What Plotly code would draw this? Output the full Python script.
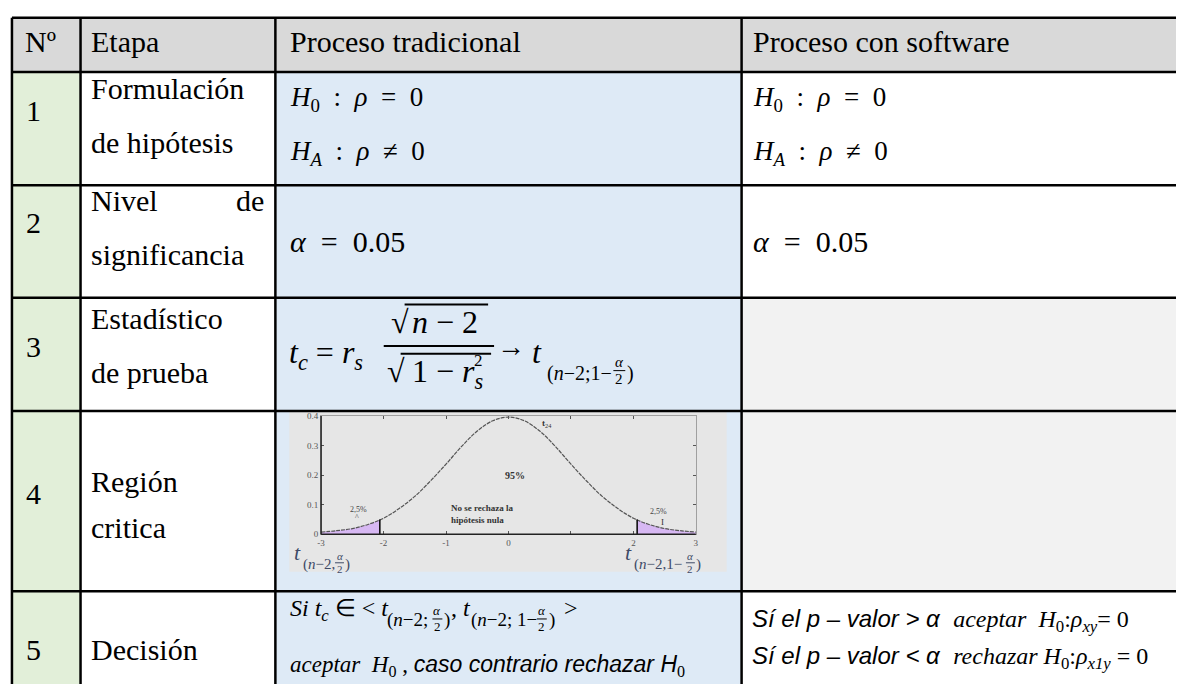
import plotly.graph_objects as go

# ---------------- data ----------------
header_labels = ["Nº", "Etapa", "Proceso tradicional", "Proceso con software"]
step_numbers = ["1", "2", "3", "4", "5"]
step_names = [["Formulación", "de hipótesis"], ["Nivel", "significancia"],
              ["Estadístico", "de prueba"], ["Región", "critica"], ["Decisión"]]
hyp_null = "<i>H</i><sub>0</sub>\u2002:\u2002<i>ρ</i>\u2002=\u20020"
hyp_alt = "<i>H</i><sub><i>A</i></sub>\u2002:\u2002<i>ρ</i>\u2002≠\u20020"
alpha_text = "<i>α</i>\u2002=\u20020.05"

# t distribution (24 df)
t_x = [-3.0, -2.75, -2.5, -2.25, -2.0, -1.75, -1.5, -1.25, -1.0, -0.75, -0.5, -0.25, 0.0,
       0.25, 0.5, 0.75, 1.0, 1.25, 1.5, 1.75, 2.0, 2.25, 2.5, 2.75, 3.0]
t_y = [0.007, 0.012, 0.019, 0.033, 0.054, 0.087, 0.128, 0.180, 0.237, 0.297, 0.349, 0.384, 0.396,
       0.384, 0.349, 0.297, 0.237, 0.180, 0.128, 0.087, 0.054, 0.033, 0.019, 0.012, 0.007]
left_tail_x = [-3.0, -2.75, -2.5, -2.25, -2.06]
left_tail_y = [0.007, 0.012, 0.019, 0.033, 0.050]
right_tail_x = [2.06, 2.25, 2.5, 2.75, 3.0]
right_tail_y = [0.050, 0.033, 0.019, 0.012, 0.007]
x_tick_vals = [-3, -2, -1, 0, 1, 2, 3]
x_tick_text = ["-3", "-2", "-1", "0", "", "2", "3"]
y_tick_vals = [0, 0.1, 0.2, 0.3, 0.4]
y_tick_text = ["0", "0.1", "0.2", "0.3", "0.4"]

# ---------------- layout geometry ----------------
W, H = 1179, 689
col_edges = [8, 77, 273, 742, 1179]
row_edges = [13, 68, 183, 297, 412, 595, 689]
GREEN, BLUE, GRAY, HEAD, WHITE = "#E2EFD9", "#DEEAF6", "#F2F2F2", "#D9D9D9", "#FFFFFF"
cell_fill = [
    [HEAD, HEAD, HEAD, HEAD],
    [GREEN, WHITE, BLUE, WHITE],
    [GREEN, WHITE, BLUE, WHITE],
    [GREEN, WHITE, BLUE, GRAY],
    [GREEN, WHITE, BLUE, GRAY],
    [GREEN, WHITE, BLUE, WHITE],
]
SERIF = "Liberation Serif, Times New Roman, serif"
SANS = "Liberation Sans, Arial, sans-serif"

fig = go.Figure()
fig.add_trace(go.Scatter(x=[0], y=[0], mode="markers", marker=dict(opacity=0),
                         hoverinfo="skip", showlegend=False, xaxis="x", yaxis="y"))

shapes = []
for r in range(len(row_edges) - 1):
    for c in range(len(col_edges) - 1):
        shapes.append(dict(type="rect", xref="x", yref="y", layer="below",
                           x0=col_edges[c], x1=col_edges[c + 1], y0=row_edges[r], y1=row_edges[r + 1],
                           fillcolor=cell_fill[r][c], line=dict(width=0)))
shapes.append(dict(type="rect", xref="x", yref="y", layer="below", x0=287, x1=727, y0=411, y1=575,
                   fillcolor="#E6E6E6", line=dict(width=0)))
for y in row_edges[:-1]:
    shapes.append(dict(type="line", xref="x", yref="y", layer="above", x0=col_edges[0], x1=W, y0=y, y1=y,
                       line=dict(color="black", width=2.5)))
for x in col_edges[:-1]:
    shapes.append(dict(type="line", xref="x", yref="y", layer="above", x0=x, x1=x, y0=row_edges[0], y1=H,
                       line=dict(color="black", width=2.5)))

ann = []


def text(x, base, s, size, family=SERIF, color="black", xref="x", yref="y", asc=0.891, xanchor="left"):
    ann.append(dict(x=x, y=base - asc * size, text=s, xref=xref, yref=yref, xanchor=xanchor, yanchor="top",
                    showarrow=False, borderpad=0, borderwidth=0,
                    font=dict(family=family, size=size, color=color)))


def hline(x0, x1, y, w=2, color="black"):
    shapes.append(dict(type="line", xref="x", yref="y", x0=x0, x1=x1, y0=y, y1=y,
                       line=dict(color=color, width=w)))


def frac(x, ybar, num, den, size, width, color="black"):
    ann.append(dict(x=x + width / 2, y=ybar - 1, text=num, xref="x", yref="y", xanchor="center", yanchor="bottom",
                    showarrow=False, borderpad=0, borderwidth=0, font=dict(family=SERIF, size=size, color=color)))
    ann.append(dict(x=x + width / 2, y=ybar + 0.5, text=den, xref="x", yref="y", xanchor="center", yanchor="top",
                    showarrow=False, borderpad=0, borderwidth=0, font=dict(family=SERIF, size=size, color=color)))
    hline(x, x + width, ybar, w=1, color=color)


FS = 30
head_x = [21, 88, 288, 753]
for hx, lab in zip(head_x, header_labels):
    text(hx, 47, lab, FS)
num_base = [117, 231, 357, 506, 664]
for b, n in zip(num_base, step_numbers):
    text(22, b, n, FS)
name_base = [[95, 150], [208, 263], [328, 383], [494, 540], [664]]
for names, bases in zip(step_names, name_base):
    for s, b in zip(names, bases):
        text(88, b, s, FS)
text(262, 208, "de", FS, xanchor="right")

for cx in (288, 753):
    text(cx, 102, hyp_null, 27)
    text(cx, 157, hyp_alt, 27)
    text(cx, 250, alpha_text, 30)

# row 3 formula
text(287, 362, "<i>t</i><sub><i>c</i></sub> = <i>r</i><sub><i>s</i></sub>", 32)
text(389, 332, "√", 32)
text(410, 332, "<i>n</i> − 2", 32)
text(385, 382, "√", 32)
text(410, 382, "1 − <i>r</i><sub><i>s</i></sub>", 32)
text(473, 366, "2", 17)
hline(382, 493, 346, 2)
hline(403, 487, 304, 2)
hline(399, 490, 354, 2)
text(496, 356, "→", 28)
text(531, 362, "<i>t</i>", 32)
text(546, 380, "(<i>n</i>−2;1−", 20)
frac(613, 371, "<i>α</i>", "2", 15, 12)
text(627, 380, ")", 20)

# embedded chart labels under its axes
C2 = "#3E4A66"
text(292, 562, "<i>t</i>", 22, color=C2)
text(301, 572, "(<i>n</i>−2,", 15, color=C2)
frac(333, 566, "<i>α</i>", "2", 11, 9, color=C2)
text(343, 572, ")", 15, color=C2)
text(625, 562, "<i>t</i>", 22, color=C2)
text(634, 572, "(<i>n</i>−2,1−", 15, color=C2)
frac(686, 566, "<i>α</i>", "2", 11, 9, color=C2)
text(696, 572, ")", 15, color=C2)

# row 5 decision texts
B1 = 620
text(288, B1, "<i>Si t</i><sub><i>c</i></sub> ∈ < <i>t</i>", 24)
text(385, B1 + 10, "(<i>n</i>−2; ", 19)
frac(431, B1 + 3, "<i>α</i>", "2", 13, 10)
text(443, B1 + 10, ")", 19)
text(450, B1, ", <i>t</i>", 24)
text(470, B1 + 10, "(<i>n</i>−2; 1−", 19)
frac(536, B1 + 3, "<i>α</i>", "2", 13, 10)
text(548, B1 + 10, ")", 19)
text(557, B1, " >", 24)
text(288, 676, "<i>aceptar</i>  <i>H</i><sub>0</sub> , <span style='font-family:Liberation Sans'><i>caso contrario rechazar H</i></span><sub>0</sub>", 23)
text(752, 630, "<i>Sí el p – valor > α</i>  <span style='font-family:Liberation Serif'><i>aceptar</i>  <i>H</i><sub>0</sub>:<i>ρ</i><sub><i>xy</i></sub>= 0</span>", 24, family=SANS)
text(752, 668, "<i>Sí el p – valor < α</i>  <span style='font-family:Liberation Serif'><i>rechazar</i> <i>H</i><sub>0</sub>:<i>ρ</i><sub><i>x1y</i></sub> = 0</span>", 24, family=SANS)

# ---------------- embedded t-distribution chart ----------------
TAIL = "#D7B8F3"
fig.add_trace(go.Scatter(x=left_tail_x, y=left_tail_y, mode="lines", fill="tozeroy", fillcolor=TAIL,
                         line=dict(width=0, shape="spline"), xaxis="x2", yaxis="y2", hoverinfo="skip", showlegend=False))
fig.add_trace(go.Scatter(x=right_tail_x, y=right_tail_y, mode="lines", fill="tozeroy", fillcolor=TAIL,
                         line=dict(width=0, shape="spline"), xaxis="x2", yaxis="y2", hoverinfo="skip", showlegend=False))
fig.add_trace(go.Scatter(x=t_x, y=t_y, mode="lines", line=dict(color="#555555", width=1.2, shape="spline", dash="4px,1px"),
                         xaxis="x2", yaxis="y2", hoverinfo="skip", showlegend=False))
for cx, cy in ((left_tail_x[-1], left_tail_y[-1]), (right_tail_x[0], right_tail_y[0])):
    fig.add_trace(go.Scatter(x=[cx, cx], y=[0, cy], mode="lines", line=dict(color="#111111", width=1.6),
                             xaxis="x2", yaxis="y2", hoverinfo="skip", showlegend=False))


def ctext(x, y, s, size=9, color="#333333", **kw):
    d = dict(x=x, y=y, text=s, xref="x2", yref="y2", showarrow=False,
             font=dict(family=SERIF, size=size, color=color))
    d.update(kw)
    ann.append(d)


ctext(0.1, 0.2, "<b>95%</b>", 10)
ctext(-0.95, 0.068, "<b>No se rechaza la<br>hipótesis nula</b>", 9, xanchor="left", align="left")
ctext(-2.4, 0.082, "2,5%", 8, "#444")
ctext(-2.42, 0.056, "^", 8, "#444")
ctext(2.4, 0.078, "2,5%", 8, "#444")
ctext(2.47, 0.04, "I", 9)
ctext(0.62, 0.375, "<b>t</b><sub>24</sub>", 9)
ctext(-1.95, -0.022, "↑", 10, "#222")
ctext(-1.68, -0.042, "<b>T</b><sub>exp</sub>", 8)

shapes.append(dict(type="line", xref="x2 domain", yref="y2 domain", x0=0, x1=0, y0=0, y1=1,
                   line=dict(color="#222222", width=1.5)))
shapes.append(dict(type="line", xref="x2 domain", yref="y2 domain", x0=0, x1=1, y0=0, y1=0,
                   line=dict(color="#222222", width=1.5)))

fig.update_layout(
    width=W, height=H, margin=dict(l=0, r=0, t=0, b=0),
    paper_bgcolor="white", plot_bgcolor="rgba(0,0,0,0)",
    showlegend=False,
    xaxis=dict(range=[0, W], domain=[0, 1], visible=False, fixedrange=True),
    yaxis=dict(range=[H, 0], domain=[0, 1], visible=False, fixedrange=True),
    xaxis2=dict(range=[-3, 3], domain=[319 / W, 696 / W], anchor="y2",
                tickvals=x_tick_vals, ticktext=x_tick_text, ticks="inside", ticklen=3, tickcolor="#555",
                showline=True, linecolor="#A0A0A0", linewidth=1, mirror="ticks", showgrid=False, zeroline=False,
                tickfont=dict(family=SERIF, size=9, color="#555"), fixedrange=True),
    yaxis2=dict(range=[0, 0.4], domain=[(H - 537) / H, (H - 417) / H], anchor="x2",
                tickvals=y_tick_vals, ticktext=y_tick_text, ticks="inside", ticklen=3, tickcolor="#555",
                showline=True, linecolor="#A0A0A0", linewidth=1, mirror="ticks", showgrid=False, zeroline=False,
                tickfont=dict(family=SERIF, size=9, color="#555"), fixedrange=True),
    shapes=shapes,
    annotations=ann,
)

fig.write_html("out.html", config={"displayModeBar": False, "staticPlot": True},
               post_script="document.body.style.margin='0';document.body.style.overflow='hidden';")
